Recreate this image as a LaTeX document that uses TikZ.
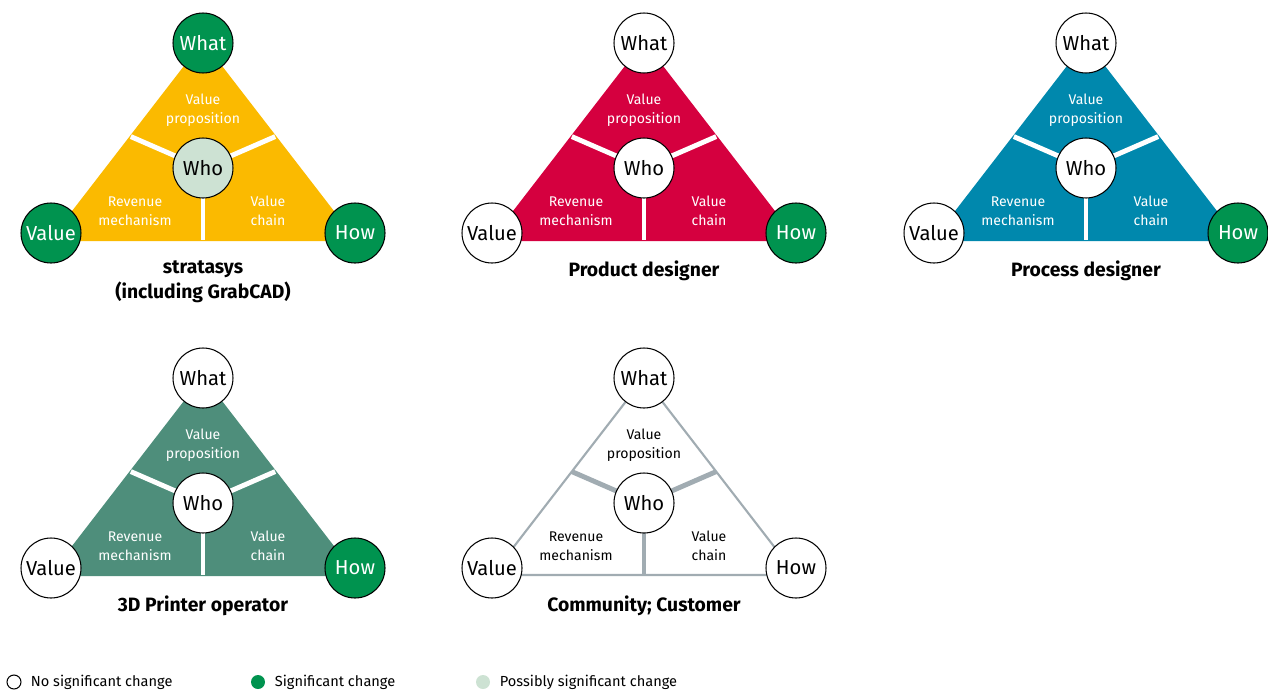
\documentclass[tikz,border=0pt]{standalone}
\usepackage{fontspec}
\setmainfont{Fira Sans}
\usepackage{tikz}
\usetikzlibrary{calc}
\usetikzlibrary{positioning}

\definecolor{yellowc}{HTML}{FBBA00}
\definecolor{redc}{HTML}{D5003F}
\definecolor{bluec}{HTML}{0088AD}
\definecolor{sagec}{HTML}{4E8E7B}
\definecolor{greenc}{HTML}{00934F}
\definecolor{palec}{HTML}{CDE2D3}
\definecolor{grayc}{HTML}{A1ACB2}

\tikzset{
    circ/.style={circle, draw=black, line width=0.6pt, minimum size=1.2cm, inner sep=0pt,
        font=\fontsize{11.5}{12}\selectfont},
    nochange/.style={circ, fill=white, text=black},
    change/.style={circ, fill=greenc, text=white},
    possible/.style={circ, fill=palec, text=black},
    part/.style={align=center, font=\fontsize{8}{11}\selectfont},
    title/.style={align=center, anchor=north, inner sep=0pt,
        font=\fontsize{11}{14.5}\selectfont\bfseries},
    legtext/.style={anchor=west, inner sep=0pt, font=\fontsize{8.3}{10}\selectfont}
}

\begin{document}
\begin{tikzpicture}[x=0.02cm, y=-0.02cm]
        \useasboundingbox (0,0) rectangle (1268,690);
        \foreach \cx/\cy/\fc/\oc/\lc/\tc/\swhat/\sval/\shw/\swho/\ttl [count=\i] in {
            203/43/yellowc/yellowc/white/white/change/change/change/possible/{stratasys\\(including GrabCAD)},
            644/43/redc/redc/white/white/nochange/nochange/change/nochange/{Product designer},
            1086/43/bluec/bluec/white/white/nochange/nochange/change/nochange/{Process designer},
            203/378/sagec/sagec/white/white/nochange/nochange/change/nochange/{3D Printer operator},
            644/378/white/grayc/grayc/black/nochange/nochange/nochange/nochange/{Community; Customer}}
        {
            \coordinate (top\i) at (\cx, \cy);
            \coordinate (bl\i) at (\cx-152, \cy+197);
            \coordinate (br\i) at (\cx+152, \cy+197);
            \coordinate (bm\i) at (\cx, \cy+197);
            \coordinate (ml\i) at ($(top\i)!0.475!(bl\i)$);
            \coordinate (mr\i) at ($(top\i)!0.475!(br\i)$);
            \coordinate (mid\i) at (\cx, \cy+125);
            \filldraw [fill=\fc, draw=\oc, line width=1.2pt] (top\i) -- (bl\i) -- (br\i) -- cycle;
            \draw [\lc, line width=2.8pt] (ml\i) -- (mid\i) -- (mr\i);
            \draw [\lc, line width=2.8pt] (mid\i) -- (bm\i);
            \node [part, text=\tc] (vp\i) at (\cx, \cy+67.5) {Value\\proposition};
            \node [part, text=\tc] (rm\i) at (\cx-68, \cy+168) {Revenue\\mechanism};
            \node [part, text=\tc] (vc\i) at (\cx+65, \cy+168) {Value\\chain};
            \node [\swhat] (what\i) at (top\i) {What};
            \node [\sval] (value\i) at (\cx-152, \cy+190) {Value};
            \node [\shw] (how\i) at (\cx+152, \cy+190) {How};
            \node [\swho] (who\i) at (mid\i) {Who};
            \node [title] (name\i) at (\cx, \cy+217) {\ttl};
        }
        % legend
        \node [nochange, minimum size=0.28cm] (leg1) at (14, 682) {};
        \node [legtext, right=0.18cm of leg1] (legt1) {No significant change};
        \node [change, draw=none, minimum size=0.28cm] (leg2) at (258, 682) {};
        \node [legtext, right=0.18cm of leg2] (legt2) {Significant change};
        \node [possible, draw=none, minimum size=0.28cm] (leg3) at (483, 682) {};
        \node [legtext, right=0.18cm of leg3] (legt3) {Possibly significant change};
    \end{tikzpicture}
\end{document}
